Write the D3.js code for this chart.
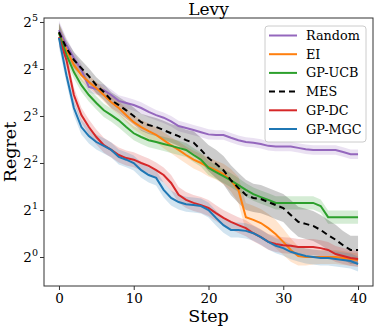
<!DOCTYPE html>
<html>
<head>
<meta charset="utf-8">
<script src="https://cdn.jsdelivr.net/npm/d3@7"></script>
<style>
  body { margin: 0; background: #fff; }
  svg { display: block; }
  text { font-family: "DejaVu Serif", serif; fill: #000; }
</style>
</head>
<body>
<svg id="chart" width="374" height="327"></svg>
<script>
// steps 0..40
var steps = d3.range(0, 41);

// regret values (mean per step)
var random = [28.4, 22.8, 18.8, 15.8, 12.3, 11.9, 11.7, 10.9, 10.0, 9.7, 9.4, 9.0, 8.5, 8.1, 7.8, 7.4, 6.9, 6.7, 6.5, 6.3, 6.1,
  6.05, 6.05, 5.8, 5.6, 5.45, 5.4, 5.3, 5.15, 5.1, 5.1, 5.1, 5.0, 4.9, 4.85, 4.85, 4.85, 4.85, 4.7, 4.55, 4.55];
var ei = [27.2, 21.2, 17.0, 14.6, 13.2, 12.1, 10.9, 9.8, 9.0, 8.1, 7.3, 6.8, 6.4, 6.05, 5.6, 5.2, 4.85, 4.5, 4.2, 4.0, 3.77,
  3.6, 3.4, 3.1, 2.69, 1.80, 1.73, 1.65, 1.53, 1.40, 1.25, 1.11, 1.015, 1.0, 1.0, 1.0, 1.0, 1.0, 0.985, 0.97, 0.957];
var gpucb = [27.2, 19.7, 15.3, 12.6, 10.9, 9.7, 8.7, 8.1, 7.5, 6.8, 6.2, 5.87, 5.6, 5.45, 5.3, 5.15, 5.0, 4.85, 4.5, 4.2, 3.72,
  3.5, 3.3, 3.1, 2.89, 2.69, 2.53, 2.42, 2.32, 2.22, 2.22, 2.22, 2.22, 2.22, 2.22, 2.12, 1.80, 1.80, 1.80, 1.80, 1.80];
var mes = [27.6, 21.8, 18.3, 16.2, 14.4, 12.6, 11.4, 10.1, 9.4, 8.7, 8.0, 7.3, 7.0, 6.8, 6.5, 6.2, 5.95, 5.6, 5.4, 4.85, 4.3,
  3.95, 3.6, 3.1, 2.77, 2.5, 2.39, 2.35, 2.25, 2.15, 2.06, 1.86, 1.68, 1.63, 1.58, 1.49, 1.38, 1.29, 1.19, 1.11, 1.11];
var gpdc = [25.6, 18.3, 10.9, 8.1, 6.8, 5.87, 5.2, 4.85, 4.5, 4.3, 4.2, 4.0, 3.83, 3.6, 3.35, 2.98, 2.5, 2.32, 2.22, 2.15, 2.06,
  1.91, 1.78, 1.68, 1.60, 1.53, 1.42, 1.34, 1.25, 1.21, 1.19, 1.18, 1.16, 1.16, 1.16, 1.14, 1.11, 1.045, 1.015, 0.985, 0.97];
var gpmgc = [25.3, 14.6, 9.0, 6.8, 5.95, 5.45, 5.15, 4.85, 4.37, 4.2, 4.0, 3.6, 3.35, 3.21, 2.69, 2.39, 2.25, 2.18, 2.15, 2.12, 2.0,
  1.78, 1.60, 1.49, 1.49, 1.47, 1.42, 1.34, 1.25, 1.18, 1.14, 1.08, 1.045, 1.015, 1.0, 0.985, 0.985, 0.97, 0.957, 0.943, 0.902];

// half width of the shaded band, in powers of two
var randomErr = [0.2, 0.15, 0.13, 0.12, 0.12, 0.12, 0.12, 0.12, 0.12, 0.12, 0.12, 0.12, 0.12, 0.11, 0.11, 0.11, 0.11, 0.11, 0.11, 0.11, 0.11,
  0.1, 0.1, 0.1, 0.1, 0.1, 0.1, 0.1, 0.1, 0.1, 0.1, 0.1, 0.1, 0.1, 0.1, 0.1, 0.1, 0.1, 0.1, 0.1, 0.1];
var eiErr = [0.2, 0.15, 0.13, 0.13, 0.13, 0.13, 0.14, 0.14, 0.14, 0.15, 0.15, 0.15, 0.16, 0.16, 0.17, 0.17, 0.18, 0.18, 0.19, 0.19, 0.2,
  0.2, 0.22, 0.24, 0.28, 0.3, 0.3, 0.3, 0.3, 0.3, 0.28, 0.25, 0.2, 0.18, 0.16, 0.15, 0.15, 0.15, 0.15, 0.14, 0.14];
var gpucbErr = [0.2, 0.14, 0.14, 0.14, 0.14, 0.14, 0.14, 0.14, 0.15, 0.15, 0.15, 0.15, 0.15, 0.15, 0.15, 0.15, 0.15, 0.15, 0.15, 0.15, 0.15,
  0.15, 0.15, 0.15, 0.15, 0.14, 0.14, 0.14, 0.14, 0.14, 0.14, 0.14, 0.14, 0.14, 0.14, 0.14, 0.14, 0.14, 0.14, 0.14, 0.14];
var mesErr = [0.2, 0.17, 0.17, 0.17, 0.17, 0.17, 0.17, 0.17, 0.17, 0.18, 0.18, 0.18, 0.19, 0.19, 0.2, 0.2, 0.21, 0.22, 0.24, 0.26, 0.28,
  0.3, 0.3, 0.32, 0.32, 0.32, 0.3, 0.3, 0.3, 0.3, 0.3, 0.32, 0.32, 0.32, 0.32, 0.32, 0.32, 0.32, 0.3, 0.3, 0.3];
var gpdcErr = [0.2, 0.16, 0.16, 0.16, 0.16, 0.16, 0.16, 0.16, 0.16, 0.16, 0.16, 0.16, 0.16, 0.16, 0.16, 0.17, 0.17, 0.17, 0.17, 0.17, 0.17,
  0.17, 0.17, 0.17, 0.17, 0.17, 0.17, 0.17, 0.17, 0.17, 0.17, 0.17, 0.17, 0.17, 0.17, 0.17, 0.17, 0.17, 0.17, 0.17, 0.17];
var gpmgcErr = [0.2, 0.16, 0.16, 0.16, 0.16, 0.16, 0.16, 0.16, 0.16, 0.16, 0.16, 0.16, 0.16, 0.16, 0.16, 0.16, 0.16, 0.16, 0.16, 0.16, 0.16,
  0.16, 0.16, 0.16, 0.16, 0.16, 0.16, 0.16, 0.16, 0.16, 0.16, 0.16, 0.16, 0.16, 0.16, 0.16, 0.16, 0.16, 0.16, 0.16, 0.16];

var names = ["Random", "EI", "GP-UCB", "MES", "GP-DC", "GP-MGC"];
var colors = ["#9467bd", "#ff7f0e", "#2ca02c", "#000000", "#d62728", "#1f77b4"];
var xTicks = [0, 10, 20, 30, 40];
var yTickPowers = [0, 1, 2, 3, 4, 5];

var series = [
  { name: names[0], values: random, err: randomErr, color: colors[0], dash: null },
  { name: names[1], values: ei, err: eiErr, color: colors[1], dash: null },
  { name: names[2], values: gpucb, err: gpucbErr, color: colors[2], dash: null },
  { name: names[3], values: mes, err: mesErr, color: colors[3], dash: "6,4" },
  { name: names[4], values: gpdc, err: gpdcErr, color: colors[4], dash: null },
  { name: names[5], values: gpmgc, err: gpmgcErr, color: colors[5], dash: null }
];

var svg = d3.select("#chart");
var margin = { left: 44, right: 1, top: 18, bottom: 41 };
var width = 374, height = 327;

var x = d3.scaleLinear().domain([-2, 42]).range([margin.left, width - margin.right]);
var y = d3.scaleLog().base(2)
  .domain([Math.pow(2, -0.617), Math.pow(2, 5.085)])
  .range([height - margin.bottom, margin.top]);

// bands
series.forEach(function (s) {
  var area = d3.area()
    .x(function (d, i) { return x(steps[i]); })
    .y0(function (d, i) { return y(d * Math.pow(2, -s.err[i])); })
    .y1(function (d, i) { return y(d * Math.pow(2, s.err[i])); });
  svg.append("path")
    .datum(s.values)
    .attr("d", area)
    .attr("fill", s.color)
    .attr("fill-opacity", 0.2)
    .attr("stroke", "none");
});

// lines
series.forEach(function (s) {
  var line = d3.line()
    .x(function (d, i) { return x(steps[i]); })
    .y(function (d) { return y(d); });
  svg.append("path")
    .datum(s.values)
    .attr("d", line)
    .attr("fill", "none")
    .attr("stroke", s.color)
    .attr("stroke-width", 2)
    .attr("stroke-dasharray", s.dash);
});

// frame
svg.append("rect")
  .attr("x", margin.left)
  .attr("y", margin.top)
  .attr("width", width - margin.right - margin.left)
  .attr("height", height - margin.bottom - margin.top)
  .attr("fill", "none")
  .attr("stroke", "#333")
  .attr("stroke-width", 1);

// x axis
var xAxis = svg.append("g")
  .attr("transform", "translate(0," + (height - margin.bottom) + ")")
  .call(d3.axisBottom(x).tickValues(xTicks).tickSize(4).tickPadding(3));
xAxis.select(".domain").remove();
xAxis.selectAll("line").attr("stroke", "#333");
xAxis.selectAll("text").style("font-family", "DejaVu Serif").style("font-size", "13.5px");

// y axis with 2^k labels
var yAxis = svg.append("g")
  .attr("transform", "translate(" + margin.left + ",0)")
  .call(d3.axisLeft(y).tickValues(yTickPowers.map(function (p) { return Math.pow(2, p); }))
    .tickSize(4).tickFormat(""));
yAxis.select(".domain").remove();
yAxis.selectAll("line").attr("stroke", "#333");

yTickPowers.forEach(function (p) {
  var t = svg.append("text")
    .attr("x", margin.left - 6)
    .attr("y", y(Math.pow(2, p)) + 5)
    .attr("text-anchor", "end")
    .style("font-size", "13.5px");
  t.append("tspan").text("2");
  t.append("tspan").attr("dy", -6).style("font-size", "9.5px").text(p);
});

// title and labels
svg.append("text")
  .attr("x", (margin.left + width - margin.right) / 2)
  .attr("y", 15)
  .attr("text-anchor", "middle")
  .style("font-size", "17px")
  .text("Levy");

svg.append("text")
  .attr("x", (margin.left + width - margin.right) / 2)
  .attr("y", 322)
  .attr("text-anchor", "middle")
  .style("font-size", "17.5px")
  .text("Step");

svg.append("text")
  .attr("transform", "translate(16," + ((margin.top + height - margin.bottom) / 2) + ")rotate(-90)")
  .attr("text-anchor", "middle")
  .style("font-size", "17.5px")
  .text("Regret");

// legend
var legend = svg.append("g").attr("transform", "translate(265,26)");
legend.append("rect")
  .attr("width", 101)
  .attr("height", 116)
  .attr("rx", 3)
  .attr("fill", "#fff")
  .attr("fill-opacity", 0.8)
  .attr("stroke", "#ccc");

series.forEach(function (s, i) {
  var row = legend.append("g").attr("transform", "translate(0," + (9.5 + i * 18.7) + ")");
  row.append("line")
    .attr("x1", 4).attr("x2", 32)
    .attr("stroke", s.color)
    .attr("stroke-width", 2)
    .attr("stroke-dasharray", s.dash);
  row.append("text")
    .attr("x", 41)
    .attr("y", 4.5)
    .style("font-size", "12.8px")
    .text(s.name);
});
</script>
</body>
</html>
